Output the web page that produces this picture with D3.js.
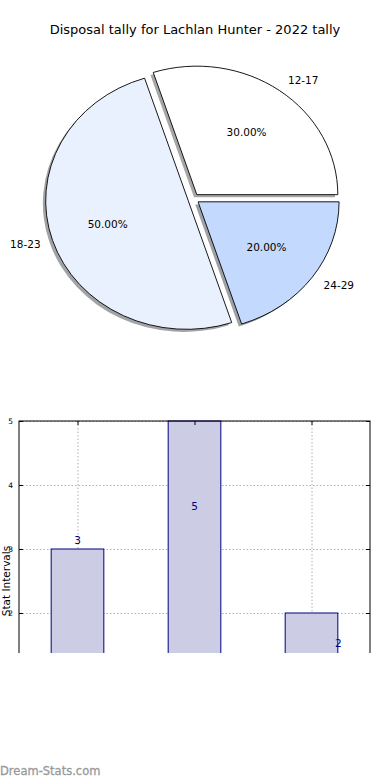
<!DOCTYPE html>
<html>
<head>
<meta charset="utf-8">
<script src="https://cdn.jsdelivr.net/npm/d3@7"></script>
<style>
  html, body { margin: 0; padding: 0; background: #fff; }
  svg { display: block; font-family: "DejaVu Sans", sans-serif; }
</style>
</head>
<body>
<svg id="chart" width="390" height="780"></svg>
<script>
// ---- data ----
const title = "Disposal tally for Lachlan Hunter - 2022 tally";
const categories = ["12-17", "18-23", "24-29"];
const values = [3, 5, 2];
const sliceColors = ["#ffffff", "#eaf1fe", "#c4d9fe"];
const yTicks = [0, 1, 2, 3, 4, 5];
const yLabel = "Stat Intervals";
const barLabelY = [3.14, 3.66, 1.53];   // value-space anchors of the bar value texts
const barLabelDX = [0, 0, 0.23];
const watermark = "Dream-Stats.com";

const svg = d3.select("#chart");

// ---- title ----
svg.append("text")
  .attr("x", 195).attr("y", 34)
  .attr("text-anchor", "middle")
  .attr("font-size", 13)
  .attr("fill", "#000")
  .text(title);

// ---- pie (elliptical, matplotlib style) ----
const cx = 193.5, cy = 198.8, rx = 141, ry = 128.5, explode = 0.04;
const total = d3.sum(values);
const pie = d3.pie().sort(null).startAngle(Math.PI / 2).endAngle(Math.PI / 2 - 2 * Math.PI);
const arcs = pie(values);
const arc = d3.arc().innerRadius(0).outerRadius(1);

const pieG = svg.append("g");
function offsetOf(d, f) {
  const a = (d.startAngle + d.endAngle) / 2;
  return [cx + f * rx * Math.sin(a), cy - f * ry * Math.cos(a)];
}
// shadows first
arcs.forEach((d, i) => {
  const [ox, oy] = offsetOf(d, explode);
  const c = d3.rgb(sliceColors[i]);
  pieG.append("path")
    .attr("d", arc(d))
    .attr("transform", `translate(${ox - 0.02 * rx},${oy + 0.02 * ry}) scale(${rx},${ry})`)
    .attr("fill", d3.rgb(c.r * 0.3, c.g * 0.3, c.b * 0.3))
    .attr("fill-opacity", 0.5)
    .attr("stroke", "none");
});
arcs.forEach((d, i) => {
  const [ox, oy] = offsetOf(d, explode);
  pieG.append("path")
    .attr("d", arc(d))
    .attr("transform", `translate(${ox},${oy}) scale(${rx},${ry})`)
    .attr("fill", sliceColors[i])
    .attr("stroke", "#000")
    .attr("stroke-width", 0.9)
    .attr("vector-effect", "non-scaling-stroke");
});
// labels
arcs.forEach((d, i) => {
  const a = (d.startAngle + d.endAngle) / 2;
  const [ax, ay] = offsetOf(d, explode);
  const lx = ax + 1.1 * rx * Math.sin(a), ly = ay - 1.1 * ry * Math.cos(a);
  pieG.append("text")
    .attr("x", lx).attr("y", ly)
    .attr("dy", "0.35em")
    .attr("text-anchor", Math.sin(a) > 0 ? "start" : "end")
    .attr("font-size", 10.5)
    .text(categories[i]);
  const px = ax + 0.6 * rx * Math.sin(a), py = ay - 0.6 * ry * Math.cos(a);
  pieG.append("text")
    .attr("x", px).attr("y", py)
    .attr("dy", "0.35em")
    .attr("text-anchor", "middle")
    .attr("font-size", 10.5)
    .text((100 * values[i] / total).toFixed(2) + "%");
});

// ---- bar chart ----
const x = d3.scaleLinear().domain([-0.5, values.length - 0.5]).range([19, 370]);
const y = d3.scaleLinear().domain([0, 5]).range([741, 421]);
const barW = 0.45;

svg.append("defs").append("clipPath").attr("id", "cut")
  .append("rect").attr("x", 0).attr("y", 0).attr("width", 390).attr("height", 653);

const barG = svg.append("g").attr("clip-path", "url(#cut)");

// grid
barG.append("g").selectAll("line.gy").data(yTicks).join("line")
  .attr("x1", x.range()[0]).attr("x2", x.range()[1])
  .attr("y1", d => y(d) + 0.5).attr("y2", d => y(d) + 0.5)
  .attr("stroke", "#b0b0b0").attr("stroke-width", 1).attr("stroke-dasharray", "1.5,2");
barG.append("g").selectAll("line.gx").data(values.map((_, i) => i)).join("line")
  .attr("x1", d => x(d) + 0.5).attr("x2", d => x(d) + 0.5)
  .attr("y1", y(5)).attr("y2", y(0))
  .attr("stroke", "#b0b0b0").attr("stroke-width", 1).attr("stroke-dasharray", "1.5,2");

// bars
barG.append("g").selectAll("rect").data(values).join("rect")
  .attr("x", (d, i) => x(i - barW / 2))
  .attr("y", d => y(d))
  .attr("width", x(barW) - x(0))
  .attr("height", d => y(0) - y(d))
  .attr("fill", "#ccccE5")
  .attr("stroke", "#000080")
  .attr("stroke-width", 1);

// bar value texts
barG.append("g").selectAll("text").data(values).join("text")
  .attr("x", (d, i) => x(i + barLabelDX[i]))
  .attr("y", (d, i) => y(barLabelY[i]))
  .attr("dy", "0.35em")
  .attr("text-anchor", "middle")
  .attr("font-size", 10.5)
  .attr("fill", "#000080")
  .text(d => d);

// frame
barG.append("rect")
  .attr("x", x.range()[0]).attr("y", y(5))
  .attr("width", x.range()[1] - x.range()[0]).attr("height", y(0) - y(5))
  .attr("fill", "none").attr("stroke", "#000").attr("stroke-width", 1);

// y axis ticks (inward, both sides) via d3 axis
const yAxisL = barG.append("g").attr("transform", `translate(${x.range()[0]},0)`)
  .call(d3.axisLeft(y).tickValues(yTicks).tickSizeInner(-4).tickSizeOuter(0).tickPadding(6).tickFormat(d3.format("d")));
yAxisL.select(".domain").remove();
yAxisL.selectAll("text").attr("font-size", 7.5).attr("fill", "#000").attr("font-family", "DejaVu Sans, sans-serif");
const yAxisR = barG.append("g").attr("transform", `translate(${x.range()[1]},0)`)
  .call(d3.axisRight(y).tickValues(yTicks).tickSizeInner(-4).tickSizeOuter(0).tickFormat(""));
yAxisR.select(".domain").remove();
const xAxisT = barG.append("g").attr("transform", `translate(0,${y(5)})`)
  .call(d3.axisTop(x).tickValues(values.map((_, i) => i)).tickSizeInner(-4).tickSizeOuter(0).tickFormat(""));
xAxisT.select(".domain").remove();

// y label
barG.append("text")
  .attr("transform", `translate(9.5,${(y(0) + y(5)) / 2}) rotate(-90)`)
  .attr("text-anchor", "middle")
  .attr("font-size", 10.5)
  .attr("fill", "#000")
  .text(yLabel);

// watermark
svg.append("text")
  .attr("x", 0).attr("y", 775)
  .attr("font-size", 11.5)
  .attr("fill", "#999999")
  .attr("stroke", "#999999")
  .attr("stroke-width", 0.3)
  .text(watermark);
</script>
</body>
</html>
